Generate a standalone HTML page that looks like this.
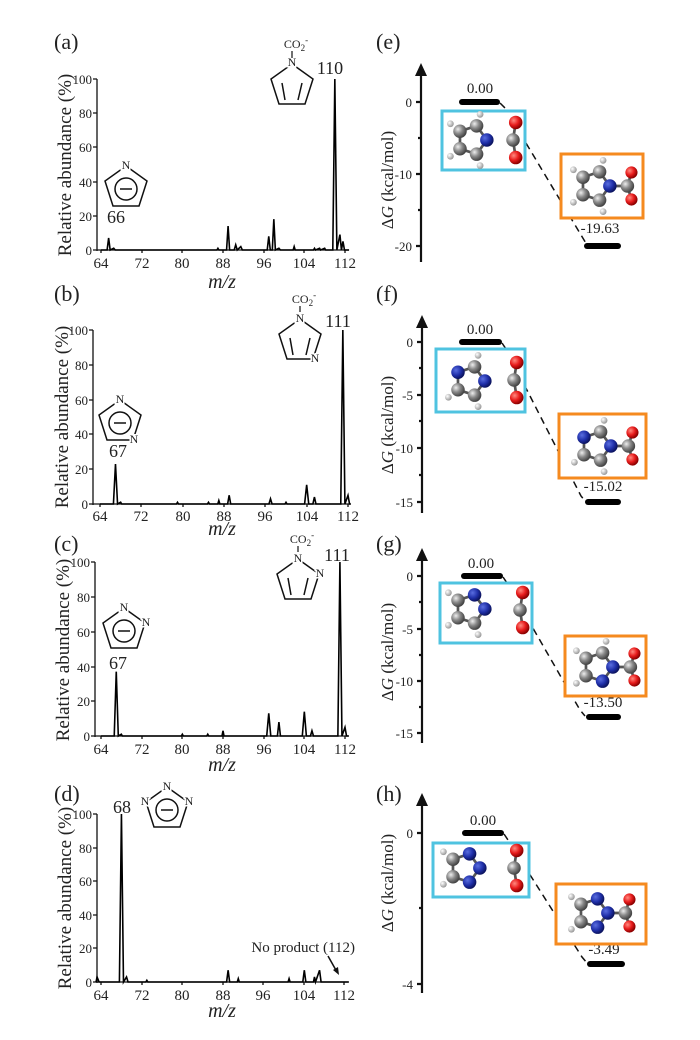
<!DOCTYPE html>
<html><head><meta charset="utf-8"><style>
html,body{margin:0;padding:0;background:#fff}
svg{display:block}
text{font-family:"Liberation Serif",serif;fill:#222}
</style></head><body>
<svg width="700" height="1040" viewBox="0 0 700 1040" xmlns="http://www.w3.org/2000/svg">
<defs>
<radialGradient id="gG" cx="35%" cy="35%" r="65%"><stop offset="0" stop-color="#eee"/><stop offset="0.5" stop-color="#8a8a8a"/><stop offset="1" stop-color="#444"/></radialGradient>
<radialGradient id="gB" cx="35%" cy="35%" r="65%"><stop offset="0" stop-color="#5a6ee0"/><stop offset="0.6" stop-color="#1f2fa8"/><stop offset="1" stop-color="#0c1460"/></radialGradient>
<radialGradient id="gR" cx="35%" cy="35%" r="65%"><stop offset="0" stop-color="#ff8a80"/><stop offset="0.55" stop-color="#e81c1c"/><stop offset="1" stop-color="#8a0000"/></radialGradient>
<radialGradient id="gW" cx="35%" cy="35%" r="65%"><stop offset="0" stop-color="#fff"/><stop offset="1" stop-color="#999"/></radialGradient>
</defs>

<g font-size="22">
<text x="54" y="49">(a)</text><text x="54" y="301">(b)</text><text x="54" y="551">(c)</text><text x="54" y="801">(d)</text>
<text x="376" y="49">(e)</text><text x="376" y="301">(f)</text><text x="376" y="551">(g)</text><text x="376" y="801">(h)</text>
</g>

<!-- ===== Panel a ===== -->
<g stroke="#111" stroke-width="1.3" fill="none">
<line x1="97" y1="79" x2="97" y2="251"/><line x1="97" y1="250" x2="349" y2="250"/>
<path d="M97 79h-4M97 113h-4M97 147h-4M97 182h-4M97 216h-4M97 250h-4"/>
<path d="M101 250v3M142 250v3M182 250v3M223 250v3M264 250v3M304 250v3M345 250v3"/>
</g>
<g font-size="13" text-anchor="end"><text x="92" y="84">100</text><text x="92" y="118">80</text><text x="92" y="152">60</text><text x="92" y="187">40</text><text x="92" y="221">20</text><text x="92" y="255">0</text></g>
<g font-size="15" text-anchor="middle"><text x="101" y="268">64</text><text x="142" y="268">72</text><text x="182" y="268">80</text><text x="223" y="268">88</text><text x="264" y="268">96</text><text x="304" y="268">104</text><text x="345" y="268">112</text></g>
<text x="222" y="288" font-size="20" font-style="italic" text-anchor="middle">m/z</text>
<text transform="translate(71,165) rotate(-90)" font-size="19" text-anchor="middle">Relative abundance (%)</text>
<g transform="translate(-224.3,250) scale(5.083,-1.71)"><path vector-effect="non-scaling-stroke" stroke="#000" stroke-width="1.6" fill="none" d="M64 0H65.2L65.5 7L65.8 0L66.5 1L66.8 0H86.8L87 1L87.2 0H88.7L89 14L89.3 0H90.2L90.5 3L90.8 0L91.5 2L91.8 0H96.7L97 8L97.3 0L97.7 0L98 18L98.3 0L99 1L99.3 0H101.8L102 2L102.2 0H105.8L106 1L106.2 0L107 1L107.2 0L108 1L108.2 0H109.6L110 100L110.4 0L111 9L111.3 0L111.6 5L111.9 0H112.8"/></g>
<g stroke="#111" stroke-width="1.5" fill="none">
<path d="M292 64L313 79L305 104L279 104L271 79Z"/><path d="M302 83L298 100M282 83L285 100"/>
<path d="M126 166L147 181L139 206L113 206L105 181Z"/><circle cx="126" cy="189" r="11"/><line x1="120" y1="189" x2="132" y2="189"/>
</g>
<g font-size="12" text-anchor="middle"><text x="292" y="66" fill="#222" style="paint-order:stroke" stroke="#fff" stroke-width="3">N</text><text x="126" y="169" stroke="#fff" stroke-width="3" style="paint-order:stroke">N</text><text x="296" y="48">CO<tspan font-size="9" dy="3">2</tspan><tspan font-size="9" dy="-8">-</tspan></text></g>
<line x1="292" y1="51" x2="292" y2="58" stroke="#111" stroke-width="1.2"/>
<text x="330" y="74" font-size="18" text-anchor="middle">110</text>
<text x="116" y="223" font-size="18" text-anchor="middle">66</text>

<!-- ===== Panel b ===== -->
<g stroke="#111" stroke-width="1.3" fill="none">
<line x1="93" y1="330" x2="93" y2="505"/><line x1="93" y1="504" x2="351" y2="504"/>
<path d="M93 330h-4M93 365h-4M93 400h-4M93 434h-4M93 469h-4M93 504h-4"/>
<path d="M100 504v3M141 504v3M183 504v3M224 504v3M265 504v3M307 504v3M348 504v3"/>
</g>
<g font-size="13" text-anchor="end"><text x="88" y="335">100</text><text x="88" y="370">80</text><text x="88" y="405">60</text><text x="88" y="439">40</text><text x="88" y="474">20</text><text x="88" y="509">0</text></g>
<g font-size="15" text-anchor="middle"><text x="100" y="521">64</text><text x="141" y="521">72</text><text x="183" y="521">80</text><text x="224" y="521">88</text><text x="265" y="521">96</text><text x="307" y="521">104</text><text x="348" y="521">112</text></g>
<text x="222" y="535" font-size="20" font-style="italic" text-anchor="middle">m/z</text>
<text transform="translate(68,417) rotate(-90)" font-size="19" text-anchor="middle">Relative abundance (%)</text>
<g transform="translate(-230.7,504) scale(5.167,-1.74)"><path vector-effect="non-scaling-stroke" stroke="#000" stroke-width="1.6" fill="none" d="M64 0H66.6L67 23L67.4 0L68 1L68.2 0H78.8L79 1L79.2 0H84.8L85 1L85.2 0H86.8L87 2L87.2 0H88.7L89 5L89.3 0H96.7L97 3L97.3 0H99.8L100 1L100.2 0H103.6L104 11L104.4 0H105.2L105.5 4L105.8 0H110.6L111 100L111.4 0L112 5L112.3 0H112.5"/></g>
<g stroke="#111" stroke-width="1.5" fill="none">
<path d="M300 319L321 334L313 359L287 359L279 334Z"/><path d="M310 338L306 355M290 338L293 355"/>
<path d="M120 400L141 415L133 440L107 440L99 415Z"/><circle cx="120" cy="423" r="11"/><line x1="114" y1="423" x2="126" y2="423"/>
</g>
<g font-size="12" text-anchor="middle" stroke="#fff" stroke-width="3" style="paint-order:stroke"><text x="300" y="322">N</text><text x="315" y="362">N</text><text x="120" y="403">N</text><text x="134" y="443">N</text></g>
<text x="304" y="303" font-size="12" text-anchor="middle">CO<tspan font-size="9" dy="3">2</tspan><tspan font-size="9" dy="-8">-</tspan></text>
<line x1="300" y1="306" x2="300" y2="312" stroke="#111" stroke-width="1.2"/>
<text x="338" y="327" font-size="18" text-anchor="middle">111</text>
<text x="118" y="457" font-size="18" text-anchor="middle">67</text>

<!-- ===== Panel c ===== -->
<g stroke="#111" stroke-width="1.3" fill="none">
<line x1="95" y1="562" x2="95" y2="737"/><line x1="95" y1="736" x2="349" y2="736"/>
<path d="M95 562h-4M95 597h-4M95 632h-4M95 667h-4M95 701h-4M95 736h-4"/>
<path d="M101 736v3M142 736v3M182 736v3M223 736v3M264 736v3M304 736v3M345 736v3"/>
</g>
<g font-size="13" text-anchor="end"><text x="90" y="567">100</text><text x="90" y="602">80</text><text x="90" y="637">60</text><text x="90" y="672">40</text><text x="90" y="706">20</text><text x="90" y="741">0</text></g>
<g font-size="15" text-anchor="middle"><text x="101" y="754">64</text><text x="142" y="754">72</text><text x="182" y="754">80</text><text x="223" y="754">88</text><text x="264" y="754">96</text><text x="304" y="754">104</text><text x="345" y="754">112</text></g>
<text x="222" y="771" font-size="20" font-style="italic" text-anchor="middle">m/z</text>
<text transform="translate(69,650) rotate(-90)" font-size="19" text-anchor="middle">Relative abundance (%)</text>
<g transform="translate(-224.3,736) scale(5.083,-1.74)"><path vector-effect="non-scaling-stroke" stroke="#000" stroke-width="1.6" fill="none" d="M64 0H66.6L67 37L67.4 0L68 1L68.2 0H79.8L80 1L80.2 0H84.8L85 1L85.2 0H87.8L88 3L88.2 0H96.6L97 13L97.4 0H98.7L99 8L99.3 0H103.6L104 14L104.4 0H105.2L105.5 3L105.8 0H110.6L111 100L111.4 0L112 5L112.3 0H112.7"/></g>
<g stroke="#111" stroke-width="1.5" fill="none">
<path d="M298 559L319 574L311 599L285 599L277 574Z"/><path d="M308 578L304 595M288 578L291 595"/>
<path d="M124 608L145 623L137 648L111 648L103 623Z"/><circle cx="124" cy="631" r="11"/><line x1="118" y1="631" x2="130" y2="631"/>
</g>
<g font-size="12" text-anchor="middle" stroke="#fff" stroke-width="3" style="paint-order:stroke"><text x="298" y="562">N</text><text x="320" y="577">N</text><text x="124" y="611">N</text><text x="146" y="626">N</text></g>
<text x="302" y="543" font-size="12" text-anchor="middle">CO<tspan font-size="9" dy="3">2</tspan><tspan font-size="9" dy="-8">-</tspan></text>
<line x1="298" y1="546" x2="298" y2="552" stroke="#111" stroke-width="1.2"/>
<text x="337" y="561" font-size="18" text-anchor="middle">111</text>
<text x="118" y="669" font-size="18" text-anchor="middle">67</text>

<!-- ===== Panel d ===== -->
<g stroke="#111" stroke-width="1.3" fill="none">
<line x1="97" y1="814" x2="97" y2="983"/><line x1="97" y1="982" x2="349" y2="982"/>
<path d="M97 814h-4M97 848h-4M97 881h-4M97 915h-4M97 948h-4M97 982h-4"/>
<path d="M101 982v3M142 982v3M182 982v3M223 982v3M263 982v3M304 982v3M344 982v3"/>
</g>
<g font-size="13" text-anchor="end"><text x="92" y="819">100</text><text x="92" y="853">80</text><text x="92" y="886">60</text><text x="92" y="920">40</text><text x="92" y="953">20</text><text x="92" y="987">0</text></g>
<g font-size="15" text-anchor="middle"><text x="101" y="1000">64</text><text x="142" y="1000">72</text><text x="182" y="1000">80</text><text x="223" y="1000">88</text><text x="263" y="1000">96</text><text x="304" y="1000">104</text><text x="344" y="1000">112</text></g>
<text x="222" y="1017" font-size="20" font-style="italic" text-anchor="middle">m/z</text>
<text transform="translate(71,898) rotate(-90)" font-size="19" text-anchor="middle">Relative abundance (%)</text>
<g transform="translate(-224,982) scale(5.08,-1.68)"><path vector-effect="non-scaling-stroke" stroke="#000" stroke-width="1.6" fill="none" d="M63 0L63.2 3L63.6 0H67.6L68 100L68.4 0L69 3L69.3 0H72.8L73 1L73.2 0H88.7L89 7L89.3 0H90.8L91 2L91.2 0H100.8L101 2L101.2 0H103.7L104 7L104.3 0H105.8L106 3L106.2 0L107 7L107.3 0H112.7"/></g>
<g stroke="#111" stroke-width="1.5" fill="none">
<path d="M167 787L188 802L180 827L154 827L146 802Z"/><circle cx="167" cy="810" r="11"/><line x1="161" y1="810" x2="173" y2="810"/>
</g>
<g font-size="12" text-anchor="middle" stroke="#fff" stroke-width="3" style="paint-order:stroke"><text x="167" y="790">N</text><text x="189" y="805">N</text><text x="145" y="805">N</text></g>
<text x="122" y="813" font-size="18" text-anchor="middle">68</text>
<text x="355" y="952" font-size="15" text-anchor="end">No product (112)</text>
<path d="M328 956L337 972" stroke="#111" stroke-width="1.5"/><path d="M333 970L339 975L338 967Z" fill="#111"/>

<!-- ===== Energy panels ===== -->
<g stroke="#111" stroke-width="2.2" fill="none"><line x1="421" y1="72" x2="421" y2="262"/><path d="M421 102h-5M421 174h-5M421 246h-5M421 138h-3M421 210h-3"/></g>
<path d="M415 76L421 63L427 76Z" fill="#111"/>
<g font-size="13" text-anchor="end"><text x="412" y="107">0</text><text x="412" y="179">-10</text><text x="412" y="251">-20</text></g>
<text transform="translate(393,180) rotate(-90)" font-size="17" text-anchor="middle"><tspan>Δ</tspan><tspan font-style="italic">G</tspan> (kcal/mol)</text>
<text x="480" y="93" font-size="15" text-anchor="middle">0.00</text>
<path d="M462 102H497" stroke="#000" stroke-width="6" stroke-linecap="round"/>
<path d="M500 103L505 108L587 245" stroke="#111" stroke-width="1.5" stroke-dasharray="7,5" fill="none"/>
<path d="M587 246H618" stroke="#000" stroke-width="6" stroke-linecap="round"/>
<text x="600" y="233" font-size="15" text-anchor="middle">-19.63</text>
<rect x="442" y="111" width="83" height="59" fill="#fff" stroke="#4fc3e0" stroke-width="3"/>
<rect x="561" y="154" width="82" height="64" fill="#fff" stroke="#f58a1f" stroke-width="3"/>

<g stroke="#111" stroke-width="2.2" fill="none"><line x1="422" y1="324" x2="422" y2="513"/><path d="M422 342h-5M422 395h-5M422 448h-5M422 502h-5M422 368h-3M422 421h-3M422 475h-3"/></g>
<path d="M416 328L422 315L428 328Z" fill="#111"/>
<g font-size="13" text-anchor="end"><text x="413" y="347">0</text><text x="413" y="400">-5</text><text x="413" y="453">-10</text><text x="413" y="507">-15</text></g>
<text transform="translate(393,425) rotate(-90)" font-size="17" text-anchor="middle"><tspan>Δ</tspan><tspan font-style="italic">G</tspan> (kcal/mol)</text>
<text x="480" y="334" font-size="15" text-anchor="middle">0.00</text>
<path d="M462 342H499" stroke="#000" stroke-width="6" stroke-linecap="round"/>
<path d="M502 343L506 349L581 496L586 502" stroke="#111" stroke-width="1.5" stroke-dasharray="7,5" fill="none"/>
<path d="M588 502H618" stroke="#000" stroke-width="6" stroke-linecap="round"/>
<text x="603" y="491" font-size="15" text-anchor="middle">-15.02</text>
<rect x="436" y="349" width="89" height="63" fill="#fff" stroke="#4fc3e0" stroke-width="3"/>
<rect x="559" y="414" width="87" height="64" fill="#fff" stroke="#f58a1f" stroke-width="3"/>

<g stroke="#111" stroke-width="2.2" fill="none"><line x1="422" y1="557" x2="422" y2="743"/><path d="M422 576h-5M422 629h-5M422 681h-5M422 733h-5M422 602h-3M422 655h-3M422 707h-3"/></g>
<path d="M416 561L422 548L428 561Z" fill="#111"/>
<g font-size="13" text-anchor="end"><text x="413" y="581">0</text><text x="413" y="634">-5</text><text x="413" y="686">-10</text><text x="413" y="738">-15</text></g>
<text transform="translate(393,652) rotate(-90)" font-size="17" text-anchor="middle"><tspan>Δ</tspan><tspan font-style="italic">G</tspan> (kcal/mol)</text>
<text x="481" y="568" font-size="15" text-anchor="middle">0.00</text>
<path d="M464 576H500" stroke="#000" stroke-width="6" stroke-linecap="round"/>
<path d="M503 577L507 583L580 710L585 716" stroke="#111" stroke-width="1.5" stroke-dasharray="7,5" fill="none"/>
<path d="M589 717H618" stroke="#000" stroke-width="6" stroke-linecap="round"/>
<text x="603" y="707" font-size="15" text-anchor="middle">-13.50</text>
<rect x="440" y="583" width="92" height="60" fill="#fff" stroke="#4fc3e0" stroke-width="3"/>
<rect x="565" y="636" width="81" height="60" fill="#fff" stroke="#f58a1f" stroke-width="3"/>

<g stroke="#111" stroke-width="2.2" fill="none"><line x1="422" y1="802" x2="422" y2="993"/><path d="M422 833h-5M422 984h-5M422 908h-3"/></g>
<path d="M416 806L422 793L428 806Z" fill="#111"/>
<g font-size="13" text-anchor="end"><text x="413" y="838">0</text><text x="413" y="989">-4</text></g>
<text transform="translate(393,883) rotate(-90)" font-size="17" text-anchor="middle"><tspan>Δ</tspan><tspan font-style="italic">G</tspan> (kcal/mol)</text>
<text x="483" y="825" font-size="15" text-anchor="middle">0.00</text>
<path d="M465 833H501" stroke="#000" stroke-width="6" stroke-linecap="round"/>
<path d="M504 834L508 840L582 957L587 963" stroke="#111" stroke-width="1.5" stroke-dasharray="7,5" fill="none"/>
<path d="M590 964H622" stroke="#000" stroke-width="6" stroke-linecap="round"/>
<text x="604" y="954" font-size="15" text-anchor="middle">-3.49</text>
<rect x="433" y="843" width="96" height="54" fill="#fff" stroke="#4fc3e0" stroke-width="3"/>
<rect x="556" y="884" width="90" height="60" fill="#fff" stroke="#f58a1f" stroke-width="3"/>

<!-- molecules -->
<g stroke="#555" stroke-width="2">
<g transform="translate(472,140) scale(1.35)"><path d="M11 0L3.4 10.5L-8.9 6.5L-8.9 -6.5L3.4 -10.5Z" fill="none"/>
<circle cx="6" cy="19" r="2.5" fill="url(#gW)" stroke="none"/><circle cx="-16" cy="12" r="2.5" fill="url(#gW)" stroke="none"/><circle cx="-16" cy="-12" r="2.5" fill="url(#gW)" stroke="none"/><circle cx="6" cy="-19" r="2.5" fill="url(#gW)" stroke="none"/>
<circle cx="11" cy="0" r="5" fill="url(#gB)" stroke="none"/><circle cx="3.4" cy="10.5" r="5" fill="url(#gG)" stroke="none"/><circle cx="-8.9" cy="6.5" r="5" fill="url(#gG)" stroke="none"/><circle cx="-8.9" cy="-6.5" r="5" fill="url(#gG)" stroke="none"/><circle cx="3.4" cy="-10.5" r="5" fill="url(#gG)" stroke="none"/></g>
<g transform="translate(513,140) scale(1.35)"><path d="M2 -13L0 0L2 13" fill="none"/><circle cx="2" cy="-13" r="5" fill="url(#gR)" stroke="none"/><circle cx="0" cy="0" r="5" fill="url(#gG)" stroke="none"/><circle cx="2" cy="13" r="5" fill="url(#gR)" stroke="none"/></g>
<g transform="translate(595,186) scale(1.35)"><path d="M11 0L3.4 10.5L-8.9 6.5L-8.9 -6.5L3.4 -10.5ZM11 0L24 0L27 -10M24 0L27 10" fill="none"/>
<circle cx="6" cy="19" r="2.5" fill="url(#gW)" stroke="none"/><circle cx="-16" cy="12" r="2.5" fill="url(#gW)" stroke="none"/><circle cx="-16" cy="-12" r="2.5" fill="url(#gW)" stroke="none"/><circle cx="6" cy="-19" r="2.5" fill="url(#gW)" stroke="none"/>
<circle cx="11" cy="0" r="5" fill="url(#gB)" stroke="none"/><circle cx="3.4" cy="10.5" r="5" fill="url(#gG)" stroke="none"/><circle cx="-8.9" cy="6.5" r="5" fill="url(#gG)" stroke="none"/><circle cx="-8.9" cy="-6.5" r="5" fill="url(#gG)" stroke="none"/><circle cx="3.4" cy="-10.5" r="5" fill="url(#gG)" stroke="none"/>
<circle cx="24" cy="0" r="5" fill="url(#gG)" stroke="none"/><circle cx="27" cy="-10" r="4.5" fill="url(#gR)" stroke="none"/><circle cx="27" cy="10" r="4.5" fill="url(#gR)" stroke="none"/></g>

<g transform="translate(470,381) scale(1.35)"><path d="M11 0L3.4 10.5L-8.9 6.5L-8.9 -6.5L3.4 -10.5Z" fill="none"/>
<circle cx="6" cy="19" r="2.5" fill="url(#gW)" stroke="none"/><circle cx="-16" cy="12" r="2.5" fill="url(#gW)" stroke="none"/><circle cx="6" cy="-19" r="2.5" fill="url(#gW)" stroke="none"/>
<circle cx="11" cy="0" r="5" fill="url(#gB)" stroke="none"/><circle cx="3.4" cy="10.5" r="5" fill="url(#gG)" stroke="none"/><circle cx="-8.9" cy="6.5" r="5" fill="url(#gG)" stroke="none"/><circle cx="-8.9" cy="-6.5" r="5" fill="url(#gB)" stroke="none"/><circle cx="3.4" cy="-10.5" r="5" fill="url(#gG)" stroke="none"/></g>
<g transform="translate(514,380) scale(1.35)"><path d="M2 -13L0 0L2 13" fill="none"/><circle cx="2" cy="-13" r="5" fill="url(#gR)" stroke="none"/><circle cx="0" cy="0" r="5" fill="url(#gG)" stroke="none"/><circle cx="2" cy="13" r="5" fill="url(#gR)" stroke="none"/></g>
<g transform="translate(596,446) scale(1.35)"><path d="M11 0L3.4 10.5L-8.9 6.5L-8.9 -6.5L3.4 -10.5ZM11 0L24 0L27 -10M24 0L27 10" fill="none"/>
<circle cx="6" cy="19" r="2.5" fill="url(#gW)" stroke="none"/><circle cx="-16" cy="12" r="2.5" fill="url(#gW)" stroke="none"/><circle cx="6" cy="-19" r="2.5" fill="url(#gW)" stroke="none"/>
<circle cx="11" cy="0" r="5" fill="url(#gB)" stroke="none"/><circle cx="3.4" cy="10.5" r="5" fill="url(#gG)" stroke="none"/><circle cx="-8.9" cy="6.5" r="5" fill="url(#gG)" stroke="none"/><circle cx="-8.9" cy="-6.5" r="5" fill="url(#gB)" stroke="none"/><circle cx="3.4" cy="-10.5" r="5" fill="url(#gG)" stroke="none"/>
<circle cx="24" cy="0" r="5" fill="url(#gG)" stroke="none"/><circle cx="27" cy="-10" r="4.5" fill="url(#gR)" stroke="none"/><circle cx="27" cy="10" r="4.5" fill="url(#gR)" stroke="none"/></g>

<g transform="translate(470,609) scale(1.35)"><path d="M11 0L3.4 10.5L-8.9 6.5L-8.9 -6.5L3.4 -10.5Z" fill="none"/>
<circle cx="6" cy="19" r="2.5" fill="url(#gW)" stroke="none"/><circle cx="-16" cy="12" r="2.5" fill="url(#gW)" stroke="none"/><circle cx="-16" cy="-12" r="2.5" fill="url(#gW)" stroke="none"/>
<circle cx="11" cy="0" r="5" fill="url(#gB)" stroke="none"/><circle cx="3.4" cy="10.5" r="5" fill="url(#gG)" stroke="none"/><circle cx="-8.9" cy="6.5" r="5" fill="url(#gG)" stroke="none"/><circle cx="-8.9" cy="-6.5" r="5" fill="url(#gG)" stroke="none"/><circle cx="3.4" cy="-10.5" r="5" fill="url(#gB)" stroke="none"/></g>
<g transform="translate(520,610) scale(1.35)"><path d="M2 -13L0 0L2 13" fill="none"/><circle cx="2" cy="-13" r="5" fill="url(#gR)" stroke="none"/><circle cx="0" cy="0" r="5" fill="url(#gG)" stroke="none"/><circle cx="2" cy="13" r="5" fill="url(#gR)" stroke="none"/></g>
<g transform="translate(598,667) scale(1.35)"><path d="M11 0L3.4 10.5L-8.9 6.5L-8.9 -6.5L3.4 -10.5ZM11 0L24 0L27 -10M24 0L27 10" fill="none"/>
<circle cx="-16" cy="12" r="2.5" fill="url(#gW)" stroke="none"/><circle cx="-16" cy="-12" r="2.5" fill="url(#gW)" stroke="none"/><circle cx="6" cy="-19" r="2.5" fill="url(#gW)" stroke="none"/>
<circle cx="11" cy="0" r="5" fill="url(#gB)" stroke="none"/><circle cx="3.4" cy="10.5" r="5" fill="url(#gB)" stroke="none"/><circle cx="-8.9" cy="6.5" r="5" fill="url(#gG)" stroke="none"/><circle cx="-8.9" cy="-6.5" r="5" fill="url(#gG)" stroke="none"/><circle cx="3.4" cy="-10.5" r="5" fill="url(#gG)" stroke="none"/>
<circle cx="24" cy="0" r="5" fill="url(#gG)" stroke="none"/><circle cx="27" cy="-10" r="4.5" fill="url(#gR)" stroke="none"/><circle cx="27" cy="10" r="4.5" fill="url(#gR)" stroke="none"/></g>

<g transform="translate(465,868) scale(1.35)"><path d="M11 0L3.4 10.5L-8.9 6.5L-8.9 -6.5L3.4 -10.5Z" fill="none"/>
<circle cx="-16" cy="12" r="2.5" fill="url(#gW)" stroke="none"/><circle cx="-16" cy="-12" r="2.5" fill="url(#gW)" stroke="none"/>
<circle cx="11" cy="0" r="5" fill="url(#gB)" stroke="none"/><circle cx="3.4" cy="10.5" r="5" fill="url(#gB)" stroke="none"/><circle cx="-8.9" cy="6.5" r="5" fill="url(#gG)" stroke="none"/><circle cx="-8.9" cy="-6.5" r="5" fill="url(#gG)" stroke="none"/><circle cx="3.4" cy="-10.5" r="5" fill="url(#gB)" stroke="none"/></g>
<g transform="translate(514,868) scale(1.35)"><path d="M2 -13L0 0L2 13" fill="none"/><circle cx="2" cy="-13" r="5" fill="url(#gR)" stroke="none"/><circle cx="0" cy="0" r="5" fill="url(#gG)" stroke="none"/><circle cx="2" cy="13" r="5" fill="url(#gR)" stroke="none"/></g>
<g transform="translate(593,913) scale(1.35)"><path d="M11 0L3.4 10.5L-8.9 6.5L-8.9 -6.5L3.4 -10.5ZM11 0L24 0L27 -10M24 0L27 10" fill="none"/>
<circle cx="-16" cy="12" r="2.5" fill="url(#gW)" stroke="none"/><circle cx="-16" cy="-12" r="2.5" fill="url(#gW)" stroke="none"/>
<circle cx="11" cy="0" r="5" fill="url(#gB)" stroke="none"/><circle cx="3.4" cy="10.5" r="5" fill="url(#gB)" stroke="none"/><circle cx="-8.9" cy="6.5" r="5" fill="url(#gG)" stroke="none"/><circle cx="-8.9" cy="-6.5" r="5" fill="url(#gG)" stroke="none"/><circle cx="3.4" cy="-10.5" r="5" fill="url(#gB)" stroke="none"/>
<circle cx="24" cy="0" r="5" fill="url(#gG)" stroke="none"/><circle cx="27" cy="-10" r="4.5" fill="url(#gR)" stroke="none"/><circle cx="27" cy="10" r="4.5" fill="url(#gR)" stroke="none"/></g>
</g>
</svg>
</body></html>
